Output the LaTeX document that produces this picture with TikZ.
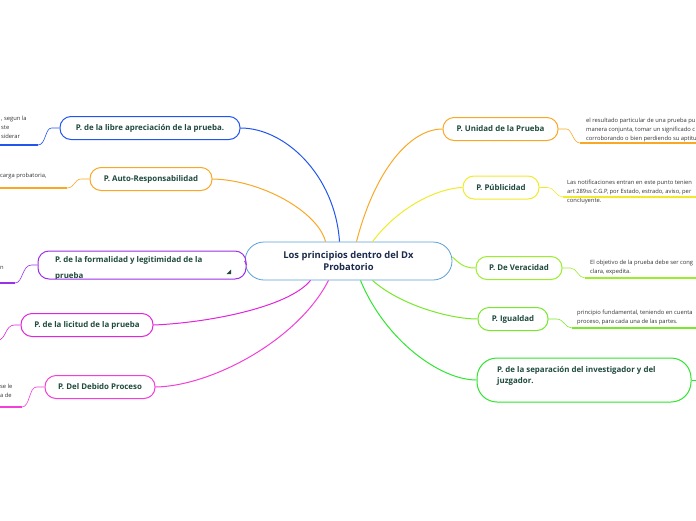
\documentclass[tikz,border=0pt]{standalone}
\usepackage{fontspec}
\setmainfont{Open Sans}
\usetikzlibrary{calc}
\definecolor{cblue}{HTML}{2255EE}
\definecolor{corange}{HTML}{F9A825}
\definecolor{cpurple}{HTML}{9B30E8}
\definecolor{cmag}{HTML}{E025DD}
\definecolor{cpink}{HTML}{F23FD8}
\definecolor{cyellow}{HTML}{F0EA2A}
\definecolor{cygreen}{HTML}{9AEE2E}
\definecolor{clime}{HTML}{77E82A}
\definecolor{cgreen}{HTML}{2EE62E}
\definecolor{ccenter}{HTML}{5A9FD8}
\definecolor{ctext}{HTML}{1F4A3D}
\definecolor{cctext}{HTML}{1B2B4B}
\definecolor{cleaf}{HTML}{333333}
\tikzset{
  child/.style={draw, rounded corners=11pt, line width=1pt, fill=white,
    font=\bfseries\fontsize{7.9}{9}\selectfont, text=ctext, inner sep=0pt,
    minimum height=23pt},
  branch/.style={line width=1pt},
  twig/.style={line width=0.6pt},
  uline/.style={line width=1.6pt},
  leaf/.style={font=\fontsize{5.8}{8.7}\selectfont, text=cleaf, inner sep=0pt,
    align=left, anchor=north west}
}
\begin{document}
\begin{tikzpicture}[x=1pt,y=-1pt]
\useasboundingbox (0,0) rectangle (696,520);
\clip (0,0) rectangle (696,520);

% center
\node[draw=ccenter, line width=0.8pt, rounded corners=19pt, fill=white,
  minimum width=207pt, minimum height=38pt, inner sep=0pt, align=center,
  font=\bfseries\fontsize{9.4}{12.5}\selectfont, text=cctext] (center) at (348.5,261)
  {Los principios dentro del Dx\\Probatorio};

% left children
\node[child, draw=cblue, minimum width=180pt] (libre) at (150,128) {P. de la libre apreciación de la prueba.};
\node[child, draw=corange, minimum width=122pt] (auto) at (151,179) {P. Auto-Responsabilidad};
\node[child, draw=cpurple, minimum width=208pt, minimum height=28pt] (formal) at (142,265) {};
\begin{scope}
  \clip[rounded corners=10.5pt] (38.5,251.5) rectangle (245.5,278.5);
  \node[font=\bfseries\fontsize{7.9}{16}\selectfont, text=ctext, inner sep=0pt,
    align=left, anchor=north west] (formaltext) at (55,256.5)
    {P. de la formalidad y legitimidad de la\\prueba};
\end{scope}
\fill[ctext] (226.5,274) -- (231,274) -- (231,269.5) -- cycle;
\node[child, draw=cmag, minimum width=132pt] (licitud) at (87,325) {P. de la licitud de la prueba};
\node[child, draw=cpink, minimum width=110pt] (debido) at (100,387) {P. Del Debido Proceso};

% right children
\node[child, draw=corange, minimum width=115pt] (unidad) at (500.5,129) {P. Unidad de la Prueba};
\node[child, draw=cyellow, minimum width=76pt] (public) at (501,187.5) {P. Públicidad};
\node[child, draw=cygreen, minimum width=86pt] (veracidad) at (519,268) {P. De Veracidad};
\node[child, draw=clime, minimum width=70pt] (igualdad) at (513,319) {P. Igualdad};
\node[child, draw=cgreen, rounded corners=20pt, minimum width=214pt, minimum height=44pt] (separ) at (584,380) {};
\node[font=\bfseries\fontsize{7.9}{11.5}\selectfont, text=ctext, inner sep=0pt,
  align=left, anchor=north west] (separtext) at (497,366)
  {P. de la separación del investigador y del\\juzgador.};

% main branches
\draw[branch, cblue] ($(center.north)+(-9,0)$) .. controls (335,175) and (285,128) .. (libre.east);
\draw[branch, corange] ($(center.north)+(-23,0)$) .. controls (318,212) and (262,180) .. (auto.east);
\draw[branch, cpurple] (center.west) -- (formal.east);
\draw[branch, cmag] ($(center.south)+(-38,0)$) .. controls (288,308) and (205,323) .. (licitud.east);
\draw[branch, cpink] ($(center.south)+(-20,0)$) .. controls (298,340) and (212,386) .. (debido.east);
\draw[branch, corange] ($(center.north)+(8,0)$) .. controls (375,170) and (410,129) .. (unidad.west);
\draw[branch, cyellow] ($(center.north)+(24,0)$) .. controls (400,205) and (440,188) .. (public.west);
\draw[branch, cygreen] ([yshift=4pt]center.east) .. controls (462,266) and (466,268) .. (veracidad.west);
\draw[branch, clime] ($(center.south)+(24,0)$) .. controls (400,305) and (450,319) .. (igualdad.west);
\draw[branch, cgreen] ($(center.south)+(12,0)$) .. controls (385,340) and (440,380) .. (separ.west);

% left leaves
\coordinate (lbu) at (38,145);
\node[leaf] (lbtext) at (1,116) {, segun la\\ste\\siderar};
\draw[twig, cblue] (libre.west) -- ++(-8,0) .. controls (45,128) and (46,145) .. (lbu);
\draw[uline, cblue] (lbu) -- (0,145);

\coordinate (lau) at (67,188);
\node[leaf] (latext) at (0,173) {carga probatoria,};
\draw[twig, corange] (auto.west) -- ++(-8,0) .. controls (74,179) and (75,188) .. (lau);
\draw[uline, corange] (lau) -- (0,188);

\coordinate (lfu) at (15,283);
\node[leaf] (lftext) at (0,266.5) {n};
\draw[twig, cpurple] (formal.west) -- ++(-6,0) .. controls (22,265) and (23,283) .. (lfu);
\draw[uline, cpurple] (lfu) -- (0,283);

\coordinate (llu) at (-2,340);
\draw[twig, cmag] (licitud.west) -- ++(-6,0) .. controls (5,325) and (6,340) .. (llu);

\coordinate (ldu) at (22,407);
\node[leaf] (ldtext) at (0,384) {se le\\a de};
\draw[twig, cpink] (debido.west) -- ++(-8,0) .. controls (29,387) and (30,407) .. (ldu);
\draw[uline, cpink] (ldu) -- (0,407);

% right leaves
\coordinate (ruu) at (580,143);
\node[leaf] (rutext) at (586,118) {el resultado particular de una prueba pu\\manera conjunta, tomar un significado c\\corroborando o bien perdiendo su aptitu};
\draw[twig, corange] (unidad.east) -- ++(8,0) .. controls (572,129) and (573,143) .. (ruu);
\draw[uline, corange] (ruu) -- (696,143);

\coordinate (rpu) at (563,197);
\node[leaf] (rptext) at (567,180) {Las notificaciones entran en este punto tenien\\art 289ss C.G.P, por Estado, estrado, aviso, per\\concluyente.};
\draw[twig, cyellow] (public.east) -- ++(8,0) .. controls (555,188) and (556,197) .. (rpu);
\draw[uline, cyellow] (rpu) -- (696,197);

\coordinate (rvu) at (585,278);
\node[leaf] (rvtext) at (590,260) {El objetivo de la prueba debe ser cong\\clara, expedita.};
\draw[twig, cygreen] (veracidad.east) -- ++(8,0) .. controls (577,268) and (578,278) .. (rvu);
\draw[uline, cygreen] (rvu) -- (696,278);

\coordinate (riu) at (572,328);
\node[leaf] (ritext) at (577,310) {principio fundamental, teniendo en cuenta\\proceso, para cada una de las partes.};
\draw[twig, clime] (igualdad.east) -- ++(8,0) .. controls (564,319) and (565,328) .. (riu);
\draw[uline, clime] (riu) -- (696,328);

\coordinate (rsu) at (700,380);
\draw[twig, cgreen] (separ.east) -- (rsu);
\end{tikzpicture}
\end{document}
